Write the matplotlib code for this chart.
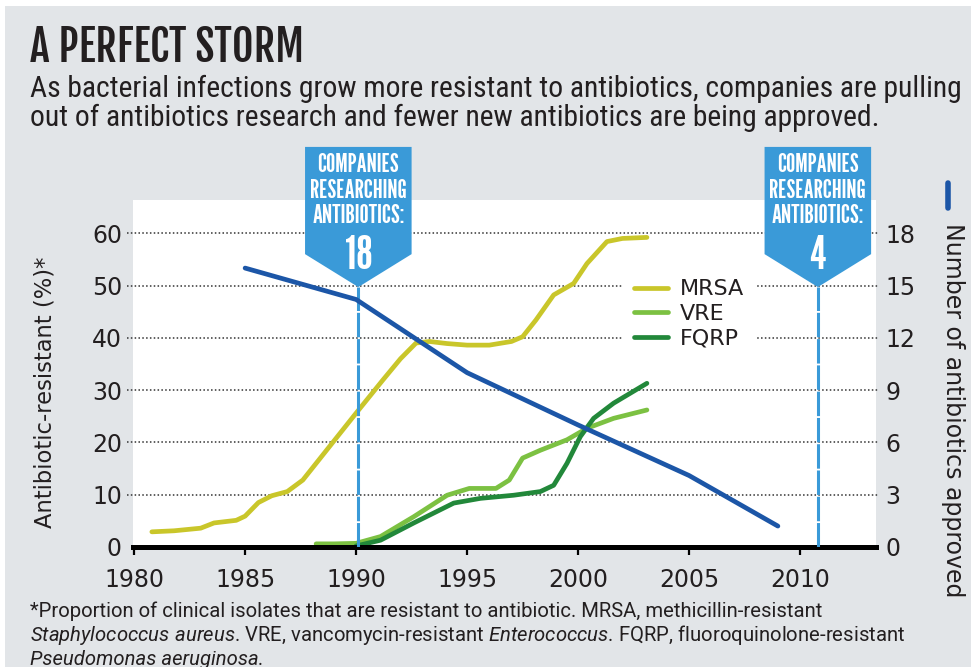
import matplotlib
matplotlib.use('Agg')
import matplotlib.pyplot as plt
from matplotlib.patches import Polygon, Rectangle
from matplotlib.lines import Line2D

# ---------------- data ----------------
mrsa_years = [1980.8, 1981.8, 1983.0, 1983.6, 1984.6, 1985.0, 1985.6, 1986.2, 1986.9, 1987.6,
              1988.8, 1990.0, 1991.2, 1992.0, 1992.7, 1993.3, 1994.1, 1995.0, 1996.0, 1997.0,
              1997.5, 1998.1, 1998.9, 1999.8, 2000.4, 2001.3, 2002.0, 2003.1]
mrsa_values = [2.9, 3.1, 3.6, 4.6, 5.1, 5.9, 8.5, 9.8, 10.6, 12.8,
               19.2, 25.6, 31.9, 36.0, 39.0, 39.3, 38.9, 38.6, 38.6, 39.3,
               40.2, 43.4, 48.2, 50.4, 54.2, 58.4, 59.0, 59.2]

vre_years = [1988.2, 1989.0, 1990.0, 1991.1, 1992.6, 1994.1, 1995.1, 1996.3, 1996.9, 1997.5,
             1998.3, 1999.5, 2000.4, 2001.6, 2003.1]
vre_values = [0.6, 0.6, 0.7, 2.0, 5.8, 9.9, 11.2, 11.2, 12.8, 17.0,
              18.5, 20.5, 22.7, 24.6, 26.2]

fqrp_years = [1990.0, 1991.1, 1992.6, 1994.4, 1995.6, 1997.1, 1998.3, 1998.9, 1999.5, 2000.1,
              2000.7, 2001.6, 2003.1]
fqrp_values = [0.2, 1.3, 4.6, 8.4, 9.3, 9.9, 10.6, 11.8, 16.0, 21.1,
               24.6, 27.5, 31.3]

approved_years = [1985, 1990, 1995, 2000, 2005, 2009]
approved_counts = [16.0, 14.2, 10.0, 7.0, 4.1, 1.2]

callout_years = [1990.1, 2010.8]
callout_companies = [18, 4]

x_ticks = [1980, 1985, 1990, 1995, 2000, 2005, 2010]
left_ticks = [0, 10, 20, 30, 40, 50, 60]
right_ticks = [0, 3, 6, 9, 12, 15, 18]

# ---------------- style ----------------
BG = '#e2e5e8'
TXT = '#231f20'
C_MRSA = '#c9c62a'
C_VRE = '#7cc142'
C_FQRP = '#22883a'
C_BLUE = '#1c56a7'
C_CALL = '#3a9ad8'

plt.rcParams['font.family'] = ['DejaVu Sans']
plt.rcParams['mathtext.fontset'] = 'custom'
plt.rcParams['mathtext.rm'] = 'Roboto'
plt.rcParams['mathtext.it'] = 'Roboto:italic'

TITLE_F = ['Fjalla One', 'DejaVu Sans']
SUB_F = ['Roboto Condensed', 'DejaVu Sans']
CALL_F = ['League Gothic', 'DejaVu Sans']
NOTE_F = ['Roboto', 'DejaVu Sans']

fig = plt.figure(figsize=(9.71, 6.67), dpi=100)
fig.patch.set_facecolor('white')
fig.add_artist(Rectangle((5 / 971, 0), 1, 1 - 6 / 667, transform=fig.transFigure,
                         facecolor=BG, edgecolor='none', zorder=-10))

ax = fig.add_axes([133 / 971, 1 - 547 / 667, 743 / 971, 347 / 667])
ax.set_facecolor('white')
ax.set_xlim(1979.95, 2013.42)
ax.set_ylim(0, 66.35)
ax2 = ax.twinx()
ax2.set_ylim(0, 66.35 * 0.3)

for a in (ax, ax2):
    for s in a.spines.values():
        s.set_visible(False)
ax.spines['bottom'].set_visible(True)
ax.spines['bottom'].set_linewidth(3.6)
ax.spines['bottom'].set_color('black')
ax.spines['bottom'].set_zorder(5)

ax.set_xticks(x_ticks)
ax.tick_params(axis='x', direction='out', length=6, width=1.6, color='black', pad=9,
               labelsize=17, labelcolor=TXT)
ax.set_yticks(left_ticks)
ax.tick_params(axis='y', length=0, pad=8, labelsize=17, labelcolor=TXT)
ax2.set_yticks(right_ticks)
ax2.tick_params(axis='y', length=0, pad=7, labelsize=17, labelcolor=TXT)

for v in left_ticks[1:]:
    ax.axhline(v, xmin=-0.008, xmax=1.004, color='#333333', lw=1.1, ls=(0, (1, 1.5)),
               clip_on=False, zorder=1)

kw = dict(lw=3.4, solid_capstyle='round', solid_joinstyle='round')
l1, = ax.plot(mrsa_years, mrsa_values, color=C_MRSA, zorder=3, label='MRSA', **kw)
l2, = ax.plot(vre_years, vre_values, color=C_VRE, zorder=3, label='VRE', **kw)
l3, = ax.plot(fqrp_years, fqrp_values, color=C_FQRP, zorder=3, label='FQRP', **kw)
ax2.plot(approved_years, approved_counts, color=C_BLUE, zorder=4, **kw)

leg = ax.legend(handles=[l1, l2, l3], loc='upper left', bbox_to_anchor=(0.645, 0.835),
                frameon=True, facecolor='white', edgecolor='none', framealpha=1,
                fontsize=16, handlelength=1.5, handletextpad=0.55, labelspacing=0.2,
                borderpad=0.5, fancybox=False)
for t in leg.get_texts():
    t.set_color(TXT)
leg.set_zorder(6)

# callouts
for yr, n in zip(callout_years, callout_companies):
    hw = 2.4
    top, side, tip = 76.5, 56.0, 49.7
    poly = Polygon([(yr - hw, top), (yr + hw, top), (yr + hw, side), (yr, tip), (yr - hw, side)],
                   closed=True, facecolor=C_CALL, edgecolor='none', transform=ax.transData,
                   clip_on=False, zorder=10)
    ax2.add_patch(poly)
    ax2.plot([yr, yr], [0, tip * 0.3], color=C_CALL, lw=2.2, ls=(0, (8, 0.6)), zorder=2)
    ax2.text(yr, 75.3, 'COMPANIES\nRESEARCHING\nANTIBIOTICS:', transform=ax.transData,
             ha='center', va='top', color='white', fontsize=18.5, family=CALL_F,
             linespacing=1.08, zorder=11, clip_on=False)
    ax2.text(yr, 55.6, str(n), transform=ax.transData, ha='center', va='center',
             color='white', fontsize=34, family=CALL_F, zorder=11, clip_on=False)

# axis labels
fig.text(45 / 971, 1 - 392 / 667, 'Antibiotic-resistant (%)*', rotation=90, ha='center',
         va='center', fontsize=16.3, color=TXT)
fig.text(953 / 971, 1 - 410 / 667, 'Number of antibiotics approved', rotation=270,
         ha='center', va='center', fontsize=17, color=TXT)
fig.add_artist(Line2D([948 / 971, 948 / 971], [1 - 183 / 667, 1 - 208 / 667],
                      transform=fig.transFigure, color=C_BLUE, lw=4, solid_capstyle='round'))

# titles
fig.text(30 / 971, 1 - 62 / 667, 'A PERFECT STORM', ha='left', va='baseline',
         fontsize=30, family=TITLE_F, color=TXT)
fig.text(30 / 971, 1 - 97 / 667,
         'As bacterial infections grow more resistant to antibiotics, companies are pulling',
         ha='left', va='baseline', fontsize=21.3, family=SUB_F, color=TXT)
fig.text(30 / 971, 1 - 126 / 667,
         'out of antibiotics research and fewer new antibiotics are being approved.',
         ha='left', va='baseline', fontsize=21.3, family=SUB_F, color=TXT)

# footnote
fig.text(30 / 971, 1 - 617 / 667,
         '*Proportion of clinical isolates that are resistant to antibiotic. MRSA, methicillin-resistant',
         ha='left', va='baseline', fontsize=14.6, family=NOTE_F, color=TXT)
fig.text(30 / 971, 1 - 641 / 667,
         r'$\it{Staphylococcus\ aureus}$. VRE, vancomycin-resistant $\it{Enterococcus}$. FQRP, fluoroquinolone-resistant',
         ha='left', va='baseline', fontsize=14.6, family=NOTE_F, color=TXT)
fig.text(30 / 971, 1 - 665 / 667, 'Pseudomonas aeruginosa.', ha='left', va='baseline',
         fontsize=14.6, family=NOTE_F, style='italic', color=TXT)

fig.savefig('out.png', dpi=100, facecolor=fig.get_facecolor())
